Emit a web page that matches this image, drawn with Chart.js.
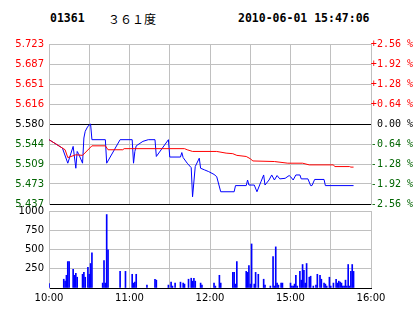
<!DOCTYPE html>
<html>
<head>
<meta charset="utf-8">
<script src="https://cdn.jsdelivr.net/npm/chart.js@4.4.1/dist/chart.umd.min.js"></script>
<style>
  html, body { margin: 0; padding: 0; background: #fff; }
  body { width: 414px; height: 314px; position: relative; overflow: hidden; }
  .head { position: absolute; top: 11px; line-height: 12px; white-space: pre; color: #000; }
  .code { left: 50px; font: bold 11.5px 'DejaVu Sans Mono', monospace; }
  .name { left: 108px; top: 10px; font: 12px 'Noto Sans CJK SC', sans-serif; }
  .stamp { left: 238px; font: bold 11.5px 'DejaVu Sans Mono', monospace; }
  #priceBox { position: absolute; left: 0; top: 0; width: 414px; height: 215px; }
  #volBox { position: absolute; left: 0; top: 200px; width: 414px; height: 114px; }
</style>
</head>
<body>
<div class="head code">01361</div>
<div class="head name">３６１度</div>
<div class="head stamp">2010-06-01 15:47:06</div>
<div id="priceBox"><canvas id="price" width="414" height="215"></canvas></div>
<div id="volBox"><canvas id="vol" width="414" height="114"></canvas></div>
<script>
'use strict';

const prevClose = 5.58;
const pctSteps = [2.56, 1.92, 1.28, 0.64, 0, -0.64, -1.28, -1.92, -2.56];
const priceLabels = ['5.723', '5.687', '5.651', '5.616', '5.580', '5.544', '5.509', '5.473', '5.437'];
const pctLabels = ['+2.56 %', '+1.92 %', '+1.28 %', '+0.64 %', '0.00 %', '-0.64 %', '-1.28 %', '-1.92 %', '-2.56 %'];
const volLabels = ['', '250', '500', '750', '1000'];
const timeLabels = ['10:00', '11:00', '12:00', '15:00', '16:00'];

// last price
const priceTimes = [
  '10:00', '10:10', '10:14', '10:18', '10:20', '10:21', '10:22', '10:25', '10:26', '10:27',
  '10:29', '10:31', '10:32', '10:42', '10:43', '10:53', '11:02', '11:03', '11:04', '11:05',
  '11:10', '11:14', '11:19', '11:20', '11:29', '11:30', '11:38', '11:39', '11:40', '11:43',
  '11:46', '11:47', '11:49', '11:52', '11:53', '11:56', '11:59', '12:03', '12:05', '12:08',
  '12:18', '12:19', '12:27', '12:28', '12:29', '14:33', '14:35', '14:38', '14:40', '14:41',
  '14:44', '14:46', '14:48', '14:50', '14:52', '14:56', '14:59', '15:00', '15:02', '15:04',
  '15:07', '15:08', '15:13', '15:15', '15:16', '15:18', '15:25', '15:26', '15:47',
];
const prices = [
  5.552, 5.537, 5.510, 5.540, 5.501, 5.531, 5.527, 5.510, 5.555, 5.567,
  5.576, 5.580, 5.552, 5.552, 5.510, 5.552, 5.552, 5.510, 5.531, 5.541,
  5.549, 5.552, 5.552, 5.522, 5.552, 5.521, 5.521, 5.529, 5.520, 5.510,
  5.502, 5.450, 5.504, 5.519, 5.501, 5.498, 5.495, 5.490, 5.486, 5.459,
  5.459, 5.470, 5.470, 5.480, 5.471, 5.471, 5.459, 5.477, 5.489, 5.471,
  5.480, 5.489, 5.480, 5.488, 5.482, 5.483, 5.488, 5.486, 5.480, 5.489,
  5.489, 5.482, 5.482, 5.470, 5.470, 5.481, 5.481, 5.470, 5.470,
];

// average price
const avgTimes = [
  '10:00', '10:12', '10:14', '10:20', '10:25', '10:32', '10:42', '10:44', '10:55', '10:56',
  '11:41', '11:43', '11:47', '12:05', '12:12', '12:17', '12:20', '12:27', '14:30', '14:32',
  '14:48', '14:58', '15:09', '15:14', '15:32', '15:33', '15:44', '15:45', '15:47',
];
const avgPrices = [
  5.552, 5.534, 5.520, 5.525, 5.524, 5.541, 5.541, 5.534, 5.534, 5.536,
  5.536, 5.534, 5.531, 5.531, 5.528, 5.527, 5.524, 5.522, 5.518, 5.514,
  5.513, 5.510, 5.510, 5.507, 5.507, 5.504, 5.504, 5.503, 5.503,
];

// volume
const volTimes = [
  '10:00', '10:11', '10:12', '10:13', '10:14', '10:15', '10:18', '10:19', '10:20', '10:21',
  '10:25', '10:26', '10:27', '10:29', '10:30', '10:31', '10:32', '10:40', '10:41', '10:42',
  '10:43', '10:44', '10:53', '10:57', '11:02', '11:03', '11:04', '11:05', '11:13', '11:19',
  '11:20', '11:29', '11:31', '11:32', '11:34', '11:38', '11:40', '11:41', '11:44', '11:46',
  '11:47', '11:48', '11:49', '11:53', '11:54', '12:03', '12:04', '12:07', '12:08', '12:17',
  '12:18', '12:19', '12:20', '12:27', '12:28', '12:29', '14:30', '14:31', '14:33', '14:34',
  '14:36', '14:40', '14:41', '14:45', '14:47', '14:48', '14:49', '14:50', '14:51', '14:53',
  '14:54', '15:00', '15:01', '15:02', '15:03', '15:04', '15:05', '15:07', '15:08', '15:09',
  '15:10', '15:11', '15:12', '15:14', '15:15', '15:17', '15:19', '15:20', '15:22', '15:23',
  '15:25', '15:26', '15:27', '15:29', '15:30', '15:32', '15:34', '15:35', '15:36', '15:37',
  '15:38', '15:39', '15:40', '15:41', '15:42', '15:43', '15:44', '15:45', '15:46', '15:47',
];
const volumes = [
  59, 114, 89, 165, 343, 343, 242, 165, 191, 140,
  178, 203, 140, 267, 178, 318, 458, 64, 356, 64,
  954, 496, 216, 216, 178, 64, 76, 178, 38, 114,
  102, 38, 76, 25, 64, 76, 64, 51, 114, 127,
  89, 127, 89, 64, 38, 64, 25, 165, 64, 203,
  203, 51, 343, 216, 203, 292, 51, 572, 51, 203,
  178, 114, 38, 25, 407, 25, 534, 64, 38, 64,
  64, 64, 25, 25, 51, 165, 25, 216, 102, 305,
  229, 64, 318, 140, 153, 25, 38, 178, 165, 114,
  64, 51, 25, 140, 25, 64, 114, 64, 89, 76,
  64, 25, 25, 102, 25, 305, 25, 216, 305, 216,
];

const RED = '#ff0000';
const GREEN = '#006400';
const GRID = '#c0c0c0';

Chart.defaults.font.family = "'DejaVu Sans', sans-serif";
Chart.defaults.font.size = 10;
Chart.defaults.color = '#000';

// trading minutes: 10:00-12:30, 14:30-16:00
const toIndex = function (t) {
  const [h, m] = t.split(':').map(Number);
  const min = h * 60 + m;
  return min <= 750 ? min - 600 : min - 870 + 150;
};

const toPoints = (times, values) => times.map((t, i) => ({ x: toIndex(t), y: values[i] }));

const priceTicks = pctSteps.map(p => prevClose * (1 + p / 100));
const signColor = v => (Math.abs(v) < 1e-9 ? '#000' : v > 0 ? RED : GREEN);

const xAxis = function (showLabels) {
  return {
    type: 'linear',
    min: 0,
    max: 240,
    offset: false,
    afterBuildTicks: scale => {
      scale.ticks = [0, 30, 60, 90, 120, 150, 180, 210, 240].map(v => ({ value: v }));
    },
    grid: { color: GRID, drawTicks: false, offset: false },
    border: { color: '#000', width: 1 },
    ticks: {
      display: showLabels,
      autoSkip: false,
      maxRotation: 0,
      padding: 4,
      callback: value => timeLabels.find(l => toIndex(l) === value) || '',
    },
    afterFit: scale => {
      scale.height = showLabels ? 26 : 0;
    },
  };
};

new Chart(document.getElementById('price'), {
  type: 'line',
  data: {
    datasets: [
      {
        data: toPoints(avgTimes, avgPrices),
        borderColor: RED,
        borderWidth: 1,
        pointRadius: 0,
        tension: 0,
        yAxisID: 'y',
      },
      {
        data: toPoints(priceTimes, prices),
        borderColor: '#0000ff',
        borderWidth: 1,
        pointRadius: 0,
        tension: 0,
        yAxisID: 'y',
      },
    ],
  },
  options: {
    responsive: false,
    animation: false,
    devicePixelRatio: 1,
    layout: { padding: { top: 44, bottom: 0, left: 0, right: 1 } },
    plugins: { legend: { display: false }, tooltip: { enabled: false } },
    scales: {
      x: xAxis(false),
      y: {
        position: 'left',
        min: priceTicks[priceTicks.length - 1],
        max: priceTicks[0],
        afterBuildTicks: scale => {
          scale.ticks = priceTicks.map(v => ({ value: v }));
        },
        grid: {
          drawTicks: false,
          color: ctx => (ctx.index === 4 || ctx.index === 8 ? '#000' : GRID),
        },
        border: { color: GRID },
        ticks: {
          padding: 5,
          callback: (value, index) => priceLabels[index],
          color: ctx => signColor(pctSteps[ctx.index]),
        },
        afterFit: scale => {
          scale.width = 49;
        },
      },
      pct: {
        position: 'right',
        display: true,
        min: -2.56,
        max: 2.56,
        afterBuildTicks: scale => {
          scale.ticks = pctSteps.map(v => ({ value: v }));
        },
        grid: { display: false, drawTicks: false },
        border: { color: GRID },
        ticks: {
          crossAlign: 'far',
          font: { family: "'DejaVu Sans Mono', monospace", size: 10 },
          callback: (value, index) => pctLabels[index],
          color: ctx => signColor(pctSteps[ctx.index]),
        },
        afterFit: scale => {
          scale.width = 42;
        },
      },
    },
  },
});

new Chart(document.getElementById('vol'), {
  type: 'bar',
  data: {
    datasets: [
      {
        data: toPoints(volTimes, volumes),
        backgroundColor: '#0000ff',
        barThickness: 1,
        grouped: false,
      },
    ],
  },
  options: {
    responsive: false,
    animation: false,
    devicePixelRatio: 1,
    layout: { padding: { top: 9, bottom: 0, left: 0, right: 43 } },
    plugins: { legend: { display: false }, tooltip: { enabled: false } },
    scales: {
      x: xAxis(true),
      y: {
        min: 0,
        max: 1000,
        afterBuildTicks: scale => {
          scale.ticks = [0, 250, 500, 750, 1000].map(v => ({ value: v }));
        },
        grid: { color: GRID, drawTicks: false },
        border: { color: GRID },
        ticks: {
          padding: 5,
          callback: (value, index) => volLabels[index],
        },
        afterFit: scale => {
          scale.width = 49;
        },
      },
    },
  },
});
</script>
</body>
</html>
